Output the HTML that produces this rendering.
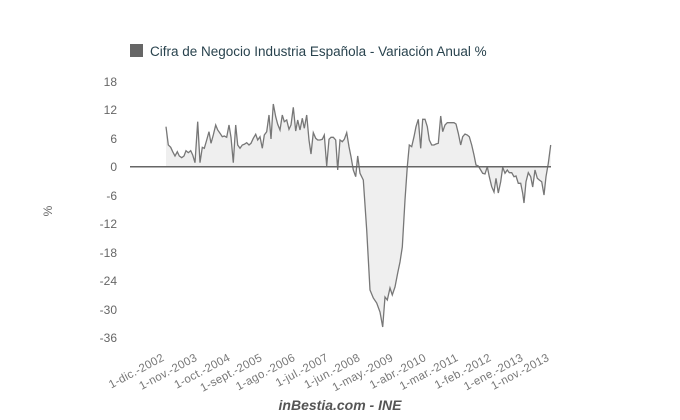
<!DOCTYPE html>
<html><head><meta charset="utf-8"><style>
html,body{margin:0;padding:0;background:#fff;width:680px;height:420px;overflow:hidden}
svg{display:block}
text{font-family:"Liberation Sans",sans-serif}
</style></head><body>
<svg id="s" width="680" height="420" viewBox="0 0 680 420">
<rect x="130" y="44" width="13" height="13" fill="#666"/>
<text x="150" y="56" font-size="13.5" fill="#29434e">Cifra de Negocio Industria Española - Variación Anual %</text>
<g font-size="12" fill="#666" text-anchor="end">
<text x="117" y="86">18</text><text x="117" y="114">12</text><text x="117" y="143">6</text>
<text x="117" y="171">0</text><text x="117" y="200">-6</text><text x="117" y="228">-12</text>
<text x="117" y="257">-18</text><text x="117" y="285">-24</text><text x="117" y="314">-30</text>
<text x="117" y="342">-36</text>
</g>
<text transform="translate(52,211) rotate(-90)" font-size="12" fill="#666" text-anchor="middle">%</text>
<g id="data"></g>
<line x1="130" y1="166.7" x2="551" y2="166.7" stroke="#666" stroke-width="1.5"/>
<g id="xl" font-size="11.5" fill="#777" text-anchor="end" letter-spacing="0.3"></g>
<text x="340" y="410" font-size="14" font-weight="bold" font-style="italic" fill="#555" text-anchor="middle">inBestia.com - INE</text>
</svg>
<script>
var z=[198,290,205,345,212,352,218,365,225,378,232,365,238,378,245,383,252,378,258,362,265,368,272,362,278,375,285,398,293,275,300,398,307,352,313,355,320,330,327,305,333,340,340,315,347,285,353,300,360,310,367,320,373,318,380,322,387,285,393,322,400,398,407,285,413,345,420,355,427,345,433,343,440,338,447,345,453,340,460,325,467,313,473,330,480,320,487,355,493,315,500,305,507,255,513,327,520,222,527,260,533,283,540,300,547,255,553,275,560,270,567,298,573,285,580,232,587,303,593,270,600,300,607,265,613,295,620,255,627,330,633,372,640,308,647,325,653,330,660,330,667,328,673,315,680,408,687,328,693,322,700,322,707,330,713,420,720,330,727,335,733,328,740,308,747,350,753,380,760,420,767,440,773,378,780,430,790,450,800,600,810,780,820,804,830,819,840,846,848,891,855,801,862,810,870,774,877,795,885,771,893,729,900,696,907,651,915,510,922,410,928,345,935,350,942,320,948,290,955,268,962,355,968,268,975,268,982,290,988,330,995,345,1002,345,1008,342,1015,340,1022,258,1028,305,1035,285,1042,278,1048,278,1055,278,1062,278,1068,282,1075,310,1082,345,1088,320,1095,312,1102,315,1108,320,1115,345,1122,375,1128,405,1135,408,1142,420,1148,430,1155,432,1162,410,1168,440,1175,470,1182,486,1188,445,1195,489,1202,455,1208,412,1215,430,1222,420,1228,428,1235,428,1242,440,1248,438,1255,460,1262,460,1268,490,1272,519,1278,455,1285,428,1292,440,1298,471,1305,420,1312,445,1318,450,1325,455,1332,495,1338,440,1345,400,1352,345];
var p=[];for(var i=0;i<z.length;i+=2)p.push((100+z[i]/3).toFixed(1)+","+(30+z[i+1]/3).toFixed(1));
var ns="http://www.w3.org/2000/svg",g=document.getElementById("data");
var f=document.createElementNS(ns,"polygon");
f.setAttribute("points",p[0].split(",")[0]+",166.7 "+p.join(" ")+" "+p[p.length-1].split(",")[0]+",166.7");
f.setAttribute("fill","#efefef");g.appendChild(f);
var l=document.createElementNS(ns,"polyline");l.setAttribute("points",p.join(" "));
l.setAttribute("fill","none");l.setAttribute("stroke","#777");l.setAttribute("stroke-width","1.3");g.appendChild(l);
var labs=["1-dic.-2002","1-nov.-2003","1-oct.-2004","1-sept.-2005","1-ago.-2006","1-jul.-2007","1-jun.-2008","1-may.-2009","1-abr.-2010","1-mar.-2011","1-feb.-2012","1-ene.-2013","1-nov.-2013"];
var xs=[165,198,231,263,296,329,361,394,427,459,492,524,550];
var xl=document.getElementById("xl");
for(var i=0;i<labs.length;i++){var t=document.createElementNS(ns,"text");
t.setAttribute("transform","translate("+xs[i]+",360) rotate(-28)");t.textContent=labs[i];xl.appendChild(t);}
</script>
</body></html>
